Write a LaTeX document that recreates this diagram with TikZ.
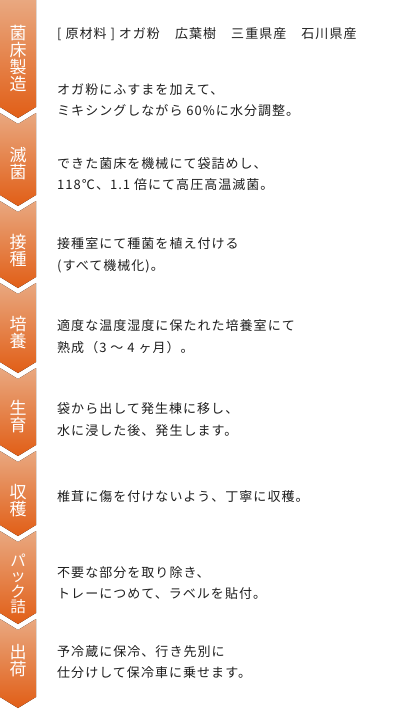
\documentclass[tikz,border=0pt]{standalone}
\usepackage{fontspec}
\newfontfamily\jpfont[LetterSpace=8]{Noto Sans CJK JP}
\newfontfamily\jplabelfont{Noto Sans CJK JP}
\definecolor{oLight}{RGB}{233,168,128}
\definecolor{oDark}{RGB}{225,94,22}
\definecolor{txt}{RGB}{30,30,30}
\newcommand\chevseg[2]{\fill[seg] (0,#1) -- (18,#1+11) -- (36,#1) -- (36,#2) -- (18,#2+11) -- (0,#2) -- cycle;}
\begin{document}
\begin{tikzpicture}[x=1pt,y=-1pt,
  seg/.style={top color=oLight,bottom color=oDark,draw=none},
  lbl/.style={text=white,font=\jplabelfont\fontsize{17}{17}\selectfont,align=center,inner sep=0pt},
  desc/.style={anchor=base west,font=\jpfont\fontsize{13}{21}\selectfont,inner sep=0pt,text=txt}]
\useasboundingbox (0,0) rectangle (406,709);
% chevron strip
\fill[seg] (0,0) -- (36,0) -- (36,107) -- (18,118) -- (0,107) -- cycle;
\chevseg{113}{195}
\chevseg{201}{277}
\chevseg{283}{362}
\chevseg{368}{445}
\chevseg{451}{525}
\chevseg{531}{613}
\chevseg{619}{697}
% step labels
\node[lbl] (l1) at (18,58) {菌\\床\\製\\造};
\node[lbl] (l2) at (18,164) {滅\\菌};
\node[lbl] (l3) at (18,251) {接\\種};
\node[lbl] (l4) at (18,333) {培\\養};
\node[lbl] (l5) at (18,417) {生\\育};
\node[lbl] (l6) at (18,501) {収\\穫};
\node[lbl,font=\jplabelfont\fontsize{15.5}{15.5}\selectfont] (l7) at (18,584) {パ\\ッ\\ク\\詰};
\node[lbl] (l8) at (18,661) {出\\荷};
% descriptions
\node[desc] (t0) at (57,38) {[ 原材料 ] オガ粉　広葉樹　三重県産　石川県産};
\node[desc] (t1a) at (57,94) {オガ粉にふすまを加えて、};
\node[desc] (t1b) at (57,115) {ミキシングしながら 60\%に水分調整。};
\node[desc] (t2a) at (57,168) {できた菌床を機械にて袋詰めし、};
\node[desc] (t2b) at (57,189) {118℃、1.1 倍にて高圧高温滅菌。};
\node[desc] (t3a) at (57,248) {接種室にて種菌を植え付ける};
\node[desc] (t3b) at (57,270) {(すべて機械化)。};
\node[desc] (t4a) at (57,330) {適度な温度湿度に保たれた培養室にて};
\node[desc] (t4b) at (57,352) {熟成（3 ～ 4 ヶ月）。};
\node[desc] (t5a) at (57,413) {袋から出して発生棟に移し、};
\node[desc] (t5b) at (57,435) {水に浸した後、発生します。};
\node[desc] (t6a) at (57,501) {椎茸に傷を付けないよう、丁寧に収穫。};
\node[desc] (t7a) at (57,577) {不要な部分を取り除き、};
\node[desc] (t7b) at (57,598) {トレーにつめて、ラベルを貼付。};
\node[desc] (t8a) at (57,656) {予冷蔵に保冷、行き先別に};
\node[desc] (t8b) at (57,677) {仕分けして保冷車に乗せます。};
\end{tikzpicture}
\end{document}
